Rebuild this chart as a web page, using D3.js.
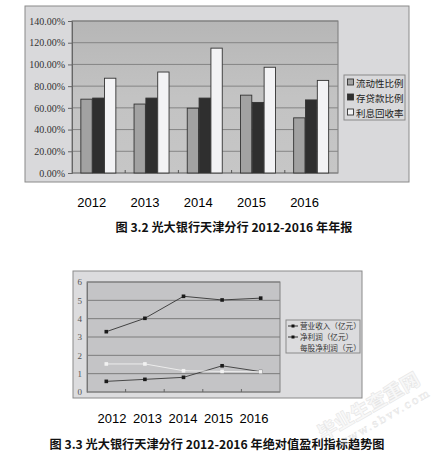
<!DOCTYPE html>
<html><head><meta charset="utf-8">
<script src="https://cdn.jsdelivr.net/npm/d3@7/dist/d3.min.js"></script>
<style>body{margin:0;background:#fff;}svg{display:block;}</style>
</head><body>
<script>
// ---- Data: chart 1 (bar) ----
const years = ["2012","2013","2014","2015","2016"];
const barSeries = ["流动性比例","存贷款比例","利息回收率"];
const liquidity = [68, 63.5, 59.7, 71.7, 50.8];
const loanDeposit = [69, 69, 69, 65, 67.3];
const interestRecovery = [87.3, 93, 115, 97.4, 85.3];
const barTicks = [0,20,40,60,80,100,120,140];
const caption1 = "图 3.2 光大银行天津分行 2012-2016 年年报";

// ---- Data: chart 2 (line) ----
const lineSeries = ["营业收入（亿元）","净利润（亿元）","每股净利润（元）"];
const revenue = [3.29, 4.02, 5.22, 5.02, 5.12];
const netProfit = [0.58, 0.69, 0.80, 1.43, 1.11];
const eps = [1.53, 1.53, 1.16, 1.12, 1.10];
const lineTicks = [0,1,2,3,4,5,6];
const caption2 = "图 3.3 光大银行天津分行 2012-2016 年绝对值盈利指标趋势图";

const W = 442, H = 457;
const svg = d3.select("body").append("svg").attr("width", W).attr("height", H);

// ================= Chart 1 =================
const g1 = svg.append("g");
g1.append("rect").attr("x",25).attr("y",6).attr("width",384).attr("height",176)
  .attr("fill","#d9d9db").attr("stroke","#8a8a8a").attr("stroke-width",1);
const p1 = {l:72, r:338, t:21, b:173};
const defs = svg.append("defs");
const grad = defs.append("linearGradient").attr("id","pg").attr("x1",0).attr("x2",0).attr("y1",0).attr("y2",1);
grad.append("stop").attr("offset","0").attr("stop-color","#b6b6b6");
grad.append("stop").attr("offset","0.5").attr("stop-color","#c3c3c3");
grad.append("stop").attr("offset","1").attr("stop-color","#c6c6c6");
g1.append("rect").attr("x",p1.l).attr("y",p1.t).attr("width",p1.r-p1.l).attr("height",p1.b-p1.t)
  .attr("fill","url(#pg)").attr("stroke","#7a7a7a");

const y1 = d3.scaleLinear().domain([0,140]).range([p1.b,p1.t]);
const x1 = d3.scaleBand().domain(years).range([p1.l,p1.r]);
const xs1 = d3.scaleBand().domain(barSeries).range([0,35.5]);

// gridlines
g1.append("g").selectAll("line").data(barTicks).join("line")
  .attr("x1",p1.l).attr("x2",p1.r).attr("y1",d=>y1(d)).attr("y2",d=>y1(d))
  .attr("stroke","#858585").attr("stroke-width",1);
// y axis
const ay1 = g1.append("g").attr("transform",`translate(${p1.l},0)`)
  .call(d3.axisLeft(y1).tickValues(barTicks).tickSize(4).tickFormat(d=>d3.format(".2f")(d)+"%"));
ay1.select(".domain").attr("stroke","#666");
ay1.selectAll(".tick line").attr("stroke","#666");
ay1.selectAll("text").attr("font-family","Liberation Serif, DejaVu Serif, serif").attr("font-size",10).attr("fill","#333");
// x ticks (band boundaries, inward)
g1.append("g").selectAll("line").data(years.slice(1)).join("line")
  .attr("x1",d=>x1(d)).attr("x2",d=>x1(d)).attr("y1",p1.b).attr("y2",p1.b-3)
  .attr("stroke","#555");

const barData = [liquidity, loanDeposit, interestRecovery];
const barFill = ["#a2a2a2","#2f2f2f","#f3f3f5"];
barSeries.forEach((s,si)=>{
  g1.append("g").selectAll("rect").data(years).join("rect")
    .attr("x",d=>x1(d)+(x1.bandwidth()-35.5)/2+xs1(s))
    .attr("width",xs1.bandwidth()-0.5)
    .attr("y",(d,i)=>y1(barData[si][i]))
    .attr("height",(d,i)=>p1.b-y1(barData[si][i]))
    .attr("fill",barFill[si]).attr("stroke","#333").attr("stroke-width",0.9);
});

// legend 1
const lg1 = g1.append("g");
lg1.append("rect").attr("x",344).attr("y",75).attr("width",61).attr("height",45)
  .attr("fill","#d9d9db").attr("stroke","#8a8a8a");
barSeries.forEach((s,i)=>{
  lg1.append("rect").attr("x",347.5).attr("y",79+i*15).attr("width",6).attr("height",6)
    .attr("fill",barFill[i]).attr("stroke","#333").attr("stroke-width",0.9);
  lg1.append("text").attr("x",356).attr("y",86.5+i*15).text(s)
    .attr("font-family","Noto Sans CJK SC").attr("font-size",9.5).attr("fill","#222");
});

// year labels 1
const xl1 = d3.scalePoint().domain(years).range([91.8,304.6]);
g1.append("g").selectAll("text").data(years).join("text")
  .attr("x",d=>xl1(d)).attr("y",207).attr("text-anchor","middle").text(d=>d)
  .attr("font-family","Liberation Sans, Arial, sans-serif").attr("font-size",13).attr("fill","#000");
g1.append("text").attr("x",234).attr("y",232).attr("text-anchor","middle").text(caption1)
  .attr("font-family","Noto Sans CJK SC").attr("font-size",12).attr("font-weight",600)
  .attr("textLength",237).attr("lengthAdjust","spacingAndGlyphs").attr("fill","#111");

// ================= Chart 2 =================
const g2 = svg.append("g");
g2.append("rect").attr("x",73).attr("y",271).attr("width",289).attr("height",127)
  .attr("fill","#dcdcde").attr("stroke","#8a8a8a");
const p2 = {l:87, r:280, t:282, b:392};
g2.append("rect").attr("x",p2.l).attr("y",p2.t).attr("width",p2.r-p2.l).attr("height",p2.b-p2.t)
  .attr("fill","#c4c4c6").attr("stroke","#808080");
const y2 = d3.scaleLinear().domain([0,6]).range([p2.b,p2.t]);
const x2 = d3.scaleBand().domain(years).range([p2.l,p2.r]);
const cx = d=>x2(d)+x2.bandwidth()/2;

g2.append("g").selectAll("line").data(lineTicks).join("line")
  .attr("x1",p2.l).attr("x2",p2.r).attr("y1",d=>y2(d)).attr("y2",d=>y2(d))
  .attr("stroke","#7c7c7c");
const ay2 = g2.append("g").attr("transform",`translate(${p2.l},0)`)
  .call(d3.axisLeft(y2).tickValues(lineTicks).tickSize(0).tickPadding(5).tickFormat(d3.format("d")));
ay2.select(".domain").attr("stroke","#777");
ay2.selectAll("text").attr("font-family","Liberation Serif, DejaVu Serif, serif").attr("font-size",9).attr("fill","#555");
g2.append("g").selectAll("line").data(years.slice(1)).join("line")
  .attr("x1",d=>x2(d)).attr("x2",d=>x2(d)).attr("y1",p2.b).attr("y2",p2.b-3).attr("stroke","#666");

const lineData = [revenue, netProfit, eps];
const lineColor = ["#333","#3a3a3a","#ececec"];
const line = d3.line().x((d,i)=>cx(years[i])).y(d=>y2(d));
lineData.forEach((arr,si)=>{
  g2.append("path").datum(arr).attr("d",line).attr("fill","none")
    .attr("stroke",lineColor[si]).attr("stroke-width",si===2?1:0.9);
  g2.append("g").selectAll("rect").data(arr).join("rect")
    .attr("x",(d,i)=>cx(years[i])-1.8).attr("y",d=>y2(d)-1.8).attr("width",3.6).attr("height",3.6)
    .attr("fill",si===2?"#f2f2f2":"#1a1a1a");
});

// legend 2
const lg2 = g2.append("g");
lg2.append("rect").attr("x",286).attr("y",320).attr("width",74).attr("height",33)
  .attr("fill","#dcdcde").attr("stroke","#8a8a8a");
lineSeries.forEach((s,i)=>{
  const yy = 326+i*11;
  if(i<2){
    lg2.append("line").attr("x1",288).attr("x2",298).attr("y1",yy).attr("y2",yy).attr("stroke","#333");
    lg2.append("rect").attr("x",291.5).attr("y",yy-1.5).attr("width",3).attr("height",3).attr("fill","#111");
  }
  lg2.append("text").attr("x",300).attr("y",yy+3).text(s)
    .attr("font-family","Noto Sans CJK SC").attr("font-size",7.6).attr("fill","#333");
});

// year labels 2
const xl2 = d3.scalePoint().domain(years).range([112,254]);
g2.append("g").selectAll("text").data(years).join("text")
  .attr("x",d=>xl2(d)).attr("y",423).attr("text-anchor","middle").text(d=>d)
  .attr("font-family","Liberation Sans, Arial, sans-serif").attr("font-size",13).attr("fill","#000");
g2.append("text").attr("x",217).attr("y",449).attr("text-anchor","middle").text(caption2)
  .attr("font-family","Noto Sans CJK SC").attr("font-size",12).attr("font-weight",600)
  .attr("textLength",335).attr("lengthAdjust","spacingAndGlyphs").attr("fill","#111");

// watermark
const wm = svg.append("g").attr("transform","translate(372,412) rotate(-30)").attr("opacity",0.4);
wm.append("text").attr("x",0).attr("y",0).attr("text-anchor","middle").text("毕业生查重网")
  .attr("font-family","Noto Sans CJK SC").attr("font-weight",900).attr("font-size",19)
  .attr("fill","#eeeeee").attr("stroke","#c0c0c0").attr("stroke-width",0.6);
wm.append("text").attr("x",8).attr("y",15).attr("text-anchor","middle").text("www.sbvv.com")
  .attr("font-family","DejaVu Serif, serif").attr("font-size",11).attr("letter-spacing",2)
  .attr("fill","#eeeeee").attr("stroke","#c0c0c0").attr("stroke-width",0.5);
</script>
</body></html>
